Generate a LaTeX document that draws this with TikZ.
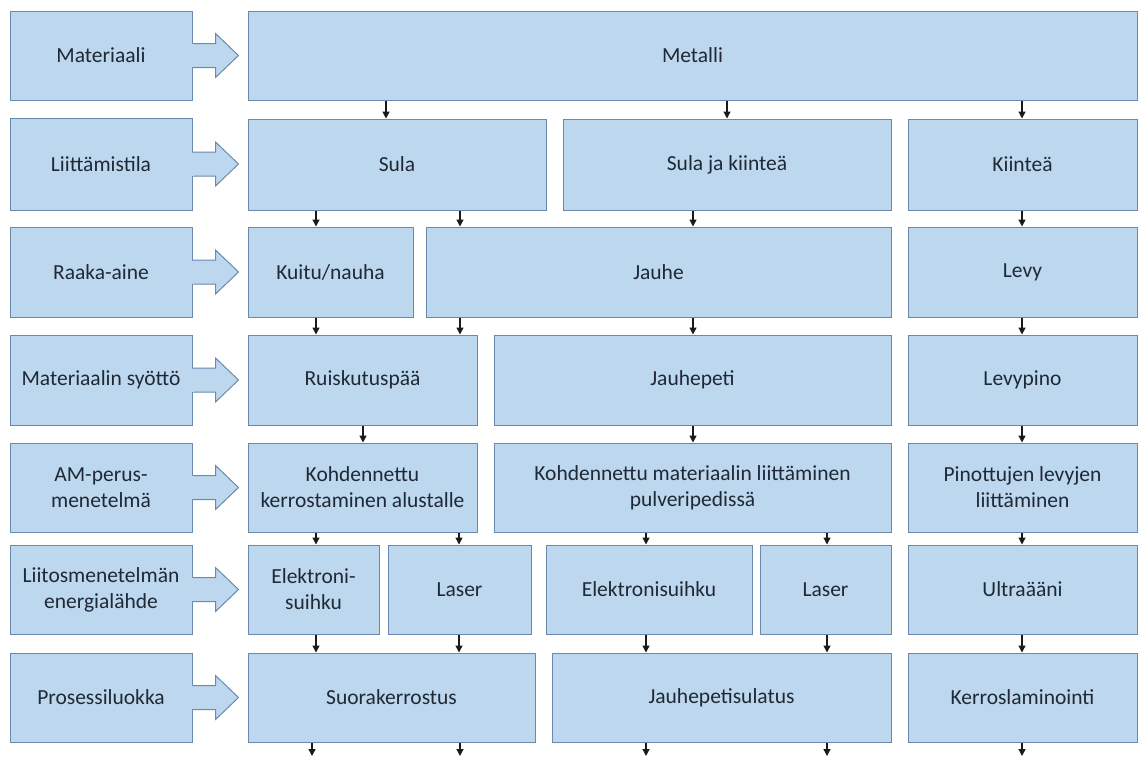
\documentclass[tikz,border=0pt]{standalone}
\usepackage{fontspec}
\setmainfont{Carlito}
\usetikzlibrary{arrows.meta,calc}
\definecolor{boxc}{HTML}{BDD7EE}
\definecolor{bordc}{HTML}{6A89AC}
\definecolor{txtc}{HTML}{1F2935}
\definecolor{arrc}{HTML}{1A1A1A}
\tikzset{
  box/.style={draw=bordc, fill=boxc, line width=1pt, text=txtc, align=center,
    inner sep=2pt, font=\fontsize{21.5}{26}\selectfont},
  conn/.style={draw=arrc, line width=1.3pt, -{Triangle[length=7pt,width=7pt]}},
  blockarrow/.style={draw=bordc, fill=boxc, line width=1pt, line join=miter}
}
\newcommand{\bx}[6]{\node[box, minimum width={#4pt-#2pt}, minimum height={#5pt-#3pt}] (#1) at ({(#2+#4)/2},{(#3+#5)/2}) {#6};}
\newcommand{\ar}[3]{\draw[conn] (#1,0 |- #2.south) -- (#1,0 |- #3.north);}
\newcommand{\barrow}[1]{%
  \draw[blockarrow] ($(#1.east)+(0,-12)$) -- ($(#1.east)+(23,-12)$) -- ($(#1.east)+(23,-22)$)
    -- ($(#1.east)+(46,0)$) -- ($(#1.east)+(23,22)$) -- ($(#1.east)+(23,12)$) -- ($(#1.east)+(0,12)$);
  \fill[boxc] ($(#1.east)+(-0.3,-11.5)$) rectangle ($(#1.east)+(1.5,11.5)$);
}
\begin{document}
\begin{tikzpicture}[x=1pt,y=-1pt]
\useasboundingbox (0,0) rectangle (1139,756);
% left labels
\bx{l1}{10}{11}{192}{100}{Materiaali}
\bx{l2}{10}{118}{192}{210}{Liittämistila}
\bx{l3}{10}{227}{192}{317}{Raaka-aine}
\bx{l4}{10}{335}{192}{425}{Materiaalin syöttö}
\bx{l5}{10}{443}{192}{532}{AM-perus-\\menetelmä}
\bx{l6}{10}{545}{192}{634}{Liitosmenetelmän\\energialähde}
\bx{l7}{10}{653}{192}{742}{Prosessiluokka}
\foreach \n in {l1,l2,l3,l4,l5,l6,l7} {\barrow{\n}}
% row 1
\bx{metalli}{248}{11}{1137}{100}{Metalli}
% row 2
\bx{sula}{248}{119}{546}{210}{Sula}
\bx{sulak}{563}{119}{891}{210}{Sula ja kiinteä}
\bx{kiintea}{908}{119}{1137}{210}{Kiinteä}
% row 3
\bx{kuitu}{248}{227}{413}{317}{Kuitu/nauha}
\bx{jauhe}{426}{227}{891}{317}{Jauhe}
\bx{levy}{908}{227}{1137}{317}{Levy}
% row 4
\bx{ruisk}{248}{335}{477}{425}{Ruiskutuspää}
\bx{jpeti}{494}{335}{891}{425}{Jauhepeti}
\bx{levyp}{908}{335}{1137}{425}{Levypino}
% row 5
\bx{kohd}{248}{443}{477}{532}{Kohdennettu\\kerrostaminen alustalle}
\bx{kohdm}{494}{443}{891}{532}{Kohdennettu materiaalin liittäminen\\pulveripedissä}
\bx{pinot}{908}{443}{1137}{532}{Pinottujen levyjen\\liittäminen}
% row 6
\bx{elek}{248}{545}{379}{634}{Elektroni-\\suihku}
\bx{laser}{388}{545}{531}{634}{Laser}
\bx{elekb}{546}{545}{752}{634}{Elektronisuihku}
\bx{laserb}{760}{545}{891}{634}{Laser}
\bx{ultra}{908}{545}{1137}{634}{Ultraääni}
% row 7
\bx{suora}{248}{653}{535}{742}{Suorakerrostus}
\bx{jsul}{552}{653}{891}{742}{Jauhepetisulatus}
\bx{kerros}{908}{653}{1137}{742}{Kerroslaminointi}
% connectors
\ar{386}{metalli}{sula}
\ar{727}{metalli}{sulak}
\ar{1022}{metalli}{kiintea}
\ar{316}{sula}{kuitu}
\ar{460}{sula}{jauhe}
\ar{693}{sulak}{jauhe}
\ar{1022}{kiintea}{levy}
\ar{316}{kuitu}{ruisk}
\ar{460}{jauhe}{ruisk}
\ar{693}{jauhe}{jpeti}
\ar{1022}{levy}{levyp}
\ar{363}{ruisk}{kohd}
\ar{693}{jpeti}{kohdm}
\ar{1022}{levyp}{pinot}
\ar{316}{kohd}{elek}
\ar{459}{kohd}{laser}
\ar{646}{kohdm}{elekb}
\ar{827}{kohdm}{laserb}
\ar{1022}{pinot}{ultra}
\ar{316}{elek}{suora}
\ar{459}{laser}{suora}
\ar{646}{elekb}{jsul}
\ar{827}{laserb}{jsul}
\ar{1022}{ultra}{kerros}
\coordinate (bot) at (0,756);
\foreach \x/\n in {312/suora,460/suora,646/jsul,827/jsul,1022/kerros}
  {\draw[conn] (\x,0 |- \n.south) -- (\x,0 |- bot);}
\end{tikzpicture}
\end{document}
